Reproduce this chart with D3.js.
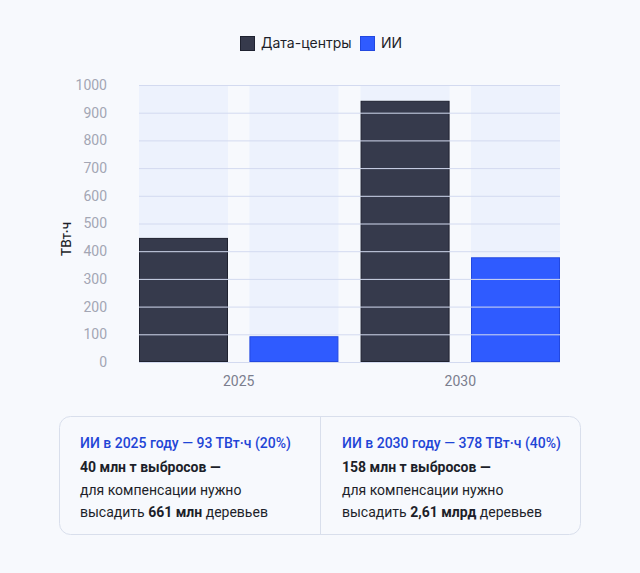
<!DOCTYPE html>
<html>
<head>
<meta charset="utf-8">
<script src="https://cdn.jsdelivr.net/npm/d3@7"></script>
<style>
  html, body { margin: 0; padding: 0; background: #f7f9fd; }
  svg { display: block; font-family: Inter, "Noto Sans", sans-serif; }
</style>
</head>
<body>
<div id="chart"></div>
<script>
// data
const years = ["2025", "2030"];
const seriesNames = ["Дата-центры", "ИИ"];
const dataCenters = [448, 943];
const ai = [93, 378];
const yTicks = [0, 100, 200, 300, 400, 500, 600, 700, 800, 900, 1000];
const notes = [
  { title: "ИИ в 2025 году — 93 ТВт·ч (20%)", line1: "40 млн т выбросов —", line2: "для компенсации нужно", pre: "высадить ", bold: "661 млн", post: " деревьев" },
  { title: "ИИ в 2030 году — 378 ТВт·ч (40%)", line1: "158 млн т выбросов —", line2: "для компенсации нужно", pre: "высадить ", bold: "2,61 млрд", post: " деревьев" }
];

const colors = ["#363a4c", "#2f5bff"];
const strokes = ["#1f2230", "#2248e0"];
const boxFont = "Roboto, 'Noto Sans', sans-serif";

const W = 640, H = 573;
const plot = { left: 139, right: 560, top: 85, bottom: 362 };

const svg = d3.select("#chart")
  .append("svg")
    .attr("width", W)
    .attr("height", H);

svg.append("rect").attr("width", W).attr("height", H).attr("fill", "#f7f9fd");

const rows = years.map((y, i) => ({ year: y, values: [dataCenters[i], ai[i]] }));

const x0 = d3.scaleBand()
  .domain(years)
  .range([plot.left, plot.right])
  .paddingInner(0.1);

const x1 = d3.scaleBand()
  .domain(seriesNames)
  .range([0, x0.bandwidth()])
  .paddingInner(0.194);

const y = d3.scaleLinear()
  .domain([0, 1000])
  .range([plot.bottom, plot.top]);

// background bands behind each bar
const groups = svg.selectAll("g.group")
  .data(rows)
  .enter()
  .append("g")
    .attr("class", "group")
    .attr("transform", d => "translate(" + x0(d.year) + ",0)");

groups.selectAll("rect.band")
  .data(d => d.values.map((v, i) => ({ key: seriesNames[i], value: v, i: i })))
  .enter()
  .append("rect")
    .attr("class", "band")
    .attr("x", d => x1(d.key))
    .attr("y", y(1000))
    .attr("width", x1.bandwidth())
    .attr("height", y(0) - y(1000))
    .attr("fill", "#edf2fd");

// gridlines
svg.append("g")
  .selectAll("line")
  .data(yTicks)
  .enter()
  .append("line")
    .attr("x1", plot.left)
    .attr("x2", plot.right)
    .attr("y1", d => y(d) + 0.5)
    .attr("y2", d => y(d) + 0.5)
    .attr("stroke", "#d3daf0")
    .attr("stroke-width", 1);

// bars
groups.selectAll("rect.bar")
  .data(d => d.values.map((v, i) => ({ key: seriesNames[i], value: v, i: i })))
  .enter()
  .append("rect")
    .attr("class", "bar")
    .attr("x", d => x1(d.key) + 0.5)
    .attr("y", d => y(d.value) + 0.5)
    .attr("width", x1.bandwidth() - 1)
    .attr("height", d => y(0) - y(d.value) - 1)
    .attr("fill", d => colors[d.i])
    .attr("stroke", d => strokes[d.i])
    .attr("stroke-width", 1);

// y axis
const yAxis = svg.append("g")
  .attr("transform", "translate(107,0)")
  .call(d3.axisLeft(y).tickValues(yTicks).tickFormat(d3.format("d")).tickSize(0).tickPadding(0));
yAxis.select(".domain").remove();
yAxis.selectAll("text")
  .attr("fill", "#a3a6b4")
  .attr("font-size", 14)
  .attr("font-family", boxFont);

svg.append("text")
  .attr("transform", "translate(71,239) rotate(-90)")
  .attr("text-anchor", "middle")
  .attr("font-size", 13)
  .attr("font-weight", 500)
  .attr("fill", "#1d1f2a")
  .text("ТВт·ч");

// x axis
const xAxis = svg.append("g")
  .attr("transform", "translate(0," + (plot.bottom + 14) + ")")
  .call(d3.axisBottom(x0).tickSize(0).tickPadding(0));
xAxis.select(".domain").remove();
xAxis.selectAll("text")
  .attr("fill", "#7b7e8e")
  .attr("font-size", 14)
  .attr("font-family", boxFont);

// legend
const legendItems = [{ x: 240, name: seriesNames[0] }, { x: 360, name: seriesNames[1] }];
const legend = svg.append("g");
legendItems.forEach((it, i) => {
  legend.append("rect")
    .attr("x", it.x + 0.5).attr("y", 36.5)
    .attr("width", 14).attr("height", 14)
    .attr("fill", colors[i]).attr("stroke", strokes[i]);
  legend.append("text")
    .attr("x", it.x + 21).attr("y", 48)
    .attr("font-size", 14)
    .attr("fill", "#1d1f2a")
    .text(it.name);
});

// notes box
const box = { x: 59.5, y: 416.5, w: 521, h: 118 };
svg.append("rect")
  .attr("x", box.x).attr("y", box.y)
  .attr("width", box.w).attr("height", box.h)
  .attr("rx", 11)
  .attr("fill", "#f7f9fd")
  .attr("stroke", "#d9dfec");
svg.append("line")
  .attr("x1", 320.5).attr("x2", 320.5)
  .attr("y1", box.y).attr("y2", box.y + box.h)
  .attr("stroke", "#d9dfec");

const noteX = [80, 342];
notes.forEach((n, i) => {
  const g = svg.append("g")
    .attr("transform", "translate(" + noteX[i] + ",0)")
    .attr("font-family", boxFont);
  g.append("text").attr("y", 448)
    .attr("font-size", 14).attr("font-weight", 500).attr("fill", "#1f45d6")
    .text(n.title);
  g.append("text").attr("y", 472)
    .attr("font-size", 14).attr("font-weight", 700).attr("fill", "#1d1f2a")
    .text(n.line1);
  g.append("text").attr("y", 495)
    .attr("font-size", 14).attr("fill", "#1d1f2a")
    .text(n.line2);
  const t = g.append("text").attr("y", 517)
    .attr("font-size", 14).attr("fill", "#1d1f2a");
  t.append("tspan").text(n.pre);
  t.append("tspan").attr("font-weight", 700).text(n.bold);
  t.append("tspan").text(n.post);
});
</script>
</body>
</html>
